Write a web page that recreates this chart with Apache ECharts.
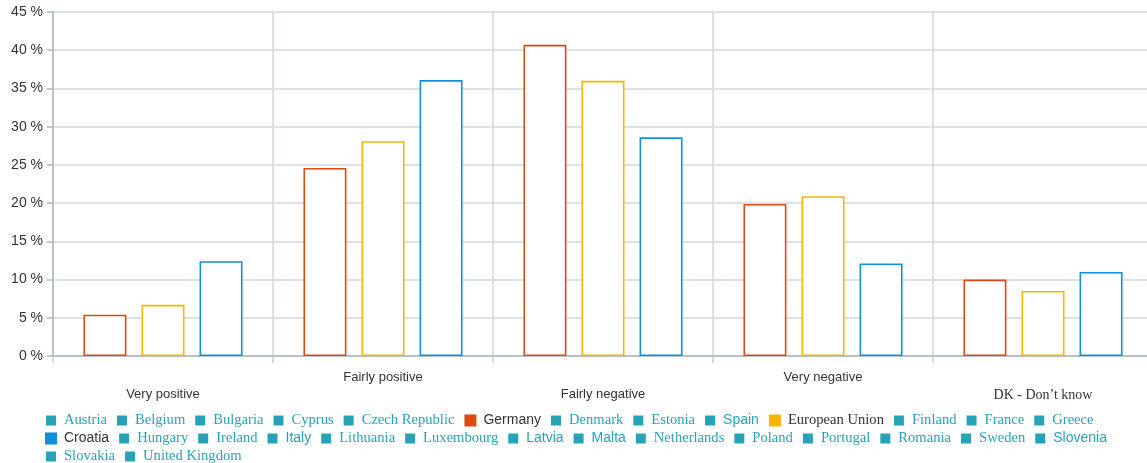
<!DOCTYPE html>
<html>
<head>
<meta charset="utf-8">
<style>
  html, body { margin: 0; padding: 0; background: #ffffff; }
  #chart { width: 1147px; height: 463px; }
</style>
<script src="https://cdn.jsdelivr.net/npm/echarts@6/dist/echarts.min.js"></script>
</head>
<body>
<div id="chart"></div>
<script>
// Answer categories along the x axis
const categories = ['Very positive', 'Fairly positive', 'Fairly negative', 'Very negative', 'DK - Don\u2019t know'];

// Shares of respondents (%) for the three highlighted series
const germany = [5.4, 24.6, 40.7, 19.9, 10.0];
const europeanUnion = [6.7, 28.1, 36.0, 20.9, 8.5];
const croatia = [12.4, 36.1, 28.6, 12.1, 11.0];

// Value axis tick range
const yMin = 0, yMax = 45, yStep = 5;

// Legend entries, in display order; only three carry data
const legendNames = ['Austria', 'Belgium', 'Bulgaria', 'Cyprus', 'Czech Republic', 'Germany', 'Denmark',
  'Estonia', 'Spain', 'European Union', 'Finland', 'France', 'Greece', 'Croatia', 'Hungary', 'Ireland',
  'Italy', 'Lithuania', 'Luxembourg', 'Latvia', 'Malta', 'Netherlands', 'Poland', 'Portugal', 'Romania',
  'Sweden', 'Slovenia', 'Slovakia', 'United Kingdom'];
const sansNames = ['Germany', 'Spain', 'Croatia', 'Italy', 'Latvia', 'Malta', 'Slovenia'];

const colors = { Germany: '#dc4a12', 'European Union': '#f7b500', Croatia: '#108fdc' };
const teal = '#27a3b9';

const chart = echarts.init(document.getElementById('chart'), null, { renderer: 'canvas' });

const barSeries = [
  ['Germany', germany],
  ['European Union', europeanUnion],
  ['Croatia', croatia]
].map(([name, values]) => ({
  name: name,
  type: 'bar',
  data: values,
  barWidth: 43,
  barGap: '35%',
  itemStyle: { color: '#ffffff', borderColor: colors[name], borderWidth: 1.6 },
  emphasis: { disabled: true }
}));

// Countries without data: listed in the legend only
const emptySeries = legendNames.filter(n => !colors[n]).map(n => ({
  name: n,
  type: 'line',
  data: [],
  color: teal,
  itemStyle: { color: teal }
}));

const legendData = legendNames.map(n => {
  const sans = sansNames.includes(n);
  return {
    name: n,
    itemStyle: { color: colors[n] || teal },
    textStyle: {
      color: colors[n] ? '#333333' : teal,
      fontFamily: sans ? 'Liberation Sans' : 'Liberation Serif',
      fontSize: sans ? 14 : 14.6,
      lineHeight: 14,
      padding: [0, 7, 0, 3]
    }
  };
});

chart.setOption({
  animation: false,
  backgroundColor: '#ffffff',
  grid: { left: 53, top: 12, width: 1100, height: 344, containLabel: false, outerBoundsMode: 'none' },
  legend: {
    data: legendData,
    left: 45,
    right: 2,
    top: 413,
    icon: 'rect',
    itemWidth: 10,
    itemHeight: 10,
    itemGap: 3,
    padding: 0,
    selectedMode: false,
    textStyle: { fontSize: 14 }
  },
  xAxis: {
    type: 'category',
    data: categories,
    boundaryGap: true,
    axisLine: { show: true, lineStyle: { color: '#aab6be', width: 1.5 } },
    axisTick: { show: true, length: 7, lineStyle: { color: '#c3ccd2', width: 1.5 } },
    splitLine: { show: true, lineStyle: { color: '#cfd7dc', width: 1.5 } },
    axisLabel: {
      interval: 0,
      margin: 15,
      color: '#333333',
      fontFamily: 'Liberation Sans',
      fontSize: 13,
      formatter: (v, i) => {
        if (i === categories.length - 1) return '{serif|' + v + '}';
        return i % 2 === 0 ? '{low|' + v + '}' : '{high|' + v + '}';
      },
      rich: {
        low: { fontFamily: 'Liberation Sans', fontSize: 13, color: '#333333', padding: [17, 0, 0, 0] },
        high: { fontFamily: 'Liberation Sans', fontSize: 13, color: '#333333', padding: [0, 0, 0, 0] },
        serif: { fontFamily: 'Liberation Serif', fontSize: 14, color: '#333333', padding: [17, 0, 0, 0] }
      }
    }
  },
  yAxis: {
    type: 'value',
    min: yMin,
    max: yMax,
    interval: yStep,
    axisLine: { show: true, lineStyle: { color: '#aab6be', width: 1.5 } },
    axisTick: { show: true, length: 6, lineStyle: { color: '#aab6be', width: 1.5 } },
    splitLine: { show: true, lineStyle: { color: '#cfd7dc', width: 1.5 } },
    axisLabel: {
      margin: 10,
      color: '#333333',
      fontFamily: 'Liberation Sans',
      fontSize: 14,
      formatter: '{value} %'
    }
  },
  series: barSeries.concat(emptySeries)
});
</script>
</body>
</html>
